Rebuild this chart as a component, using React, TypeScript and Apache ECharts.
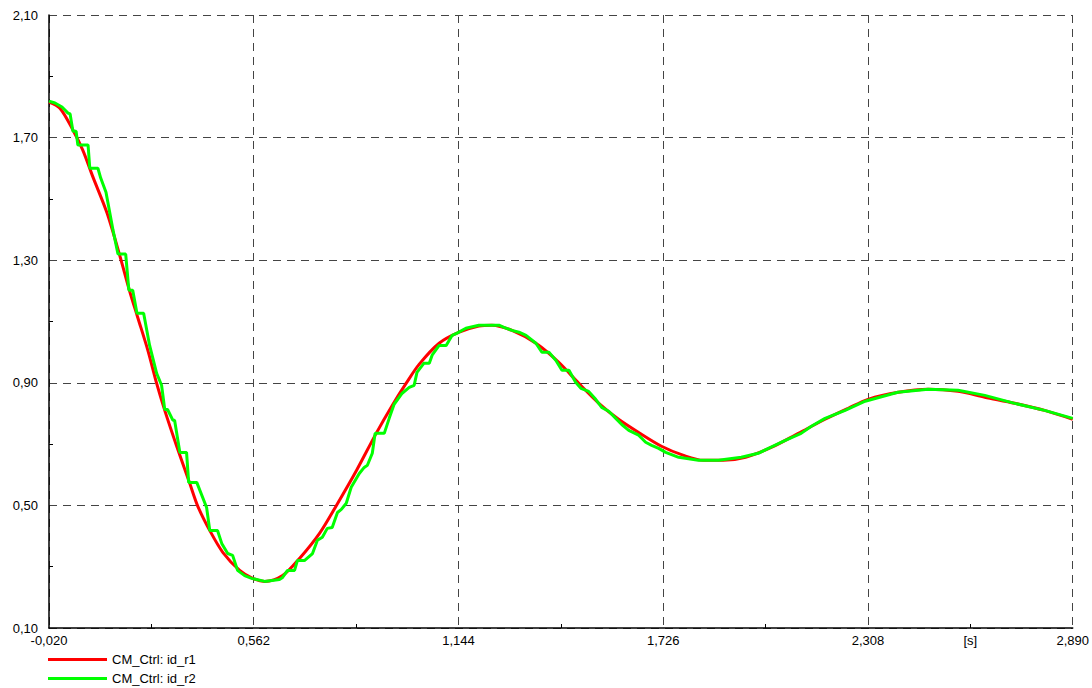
import React, { useEffect, useRef } from "react";
import * as echarts from "echarts";

const seriesNames = ["CM_Ctrl: id_r1", "CM_Ctrl: id_r2"];

const xTicks = [-0.02, 0.562, 1.144, 1.726, 2.308, 2.89];
const xMinorTicks = [0.271, 0.853, 1.435, 2.017, 2.599];
const yTicks = [0.1, 0.5, 0.9, 1.3, 1.7, 2.1];
const yMinorTicks = [0.3, 0.7, 1.1, 1.5, 1.9];
const unitLabel = "[s]";
const unitPosition = [2.599];

const idR1: [number, number][] = [
  [-0.02, 1.816], [0.011, 1.796], [0.048, 1.725], [0.076, 1.659], [0.105, 1.571],
  [0.145, 1.454], [0.181, 1.316], [0.21, 1.196], [0.232, 1.114], [0.261, 1.006],
  [0.286, 0.898], [0.309, 0.81], [0.343, 0.693], [0.38, 0.572], [0.403, 0.497],
  [0.437, 0.418], [0.474, 0.347], [0.522, 0.288], [0.559, 0.262], [0.593, 0.252],
  [0.644, 0.271], [0.692, 0.327], [0.749, 0.409], [0.797, 0.5], [0.854, 0.614],
  [0.91, 0.735], [0.956, 0.827], [0.995, 0.898], [1.032, 0.96], [1.089, 1.029],
  [1.146, 1.065], [1.202, 1.085], [1.239, 1.088], [1.296, 1.071], [1.364, 1.029],
  [1.429, 0.967], [1.486, 0.898], [1.543, 0.833], [1.599, 0.781], [1.656, 0.738],
  [1.721, 0.693], [1.784, 0.663], [1.84, 0.647], [1.897, 0.647], [1.96, 0.657],
  [2.033, 0.689], [2.11, 0.735], [2.186, 0.781], [2.252, 0.817], [2.308, 0.846],
  [2.394, 0.869], [2.479, 0.879], [2.564, 0.872], [2.64, 0.853], [2.725, 0.833],
  [2.81, 0.81], [2.89, 0.781],
];

const idR2: [number, number][] = [
  [-0.02, 1.819], [-0.003, 1.813], [0.017, 1.8], [0.034, 1.78], [0.04, 1.777],
  [0.048, 1.721], [0.057, 1.721], [0.062, 1.676], [0.091, 1.676], [0.096, 1.6],
  [0.119, 1.6], [0.127, 1.568], [0.142, 1.522], [0.162, 1.398], [0.176, 1.32],
  [0.198, 1.32], [0.207, 1.202], [0.218, 1.202], [0.23, 1.127], [0.249, 1.127],
  [0.266, 1.022], [0.286, 0.931], [0.3, 0.892], [0.309, 0.813], [0.317, 0.813],
  [0.332, 0.778], [0.337, 0.778], [0.352, 0.673], [0.371, 0.673], [0.377, 0.575],
  [0.4, 0.575], [0.428, 0.493], [0.437, 0.418], [0.459, 0.418], [0.471, 0.376],
  [0.488, 0.343], [0.502, 0.337], [0.516, 0.288], [0.536, 0.271], [0.556, 0.262],
  [0.593, 0.252], [0.635, 0.258], [0.644, 0.265], [0.658, 0.288], [0.678, 0.288],
  [0.686, 0.32], [0.706, 0.32], [0.729, 0.343], [0.743, 0.386], [0.757, 0.396],
  [0.771, 0.425], [0.785, 0.428], [0.8, 0.477], [0.811, 0.487], [0.825, 0.507],
  [0.839, 0.559], [0.862, 0.604], [0.876, 0.624], [0.885, 0.631], [0.899, 0.67],
  [0.907, 0.735], [0.933, 0.735], [0.947, 0.784], [0.961, 0.83], [0.984, 0.866],
  [1.004, 0.885], [1.018, 0.892], [1.026, 0.934], [1.046, 0.964], [1.061, 0.964],
  [1.069, 0.99], [1.089, 1.022], [1.109, 1.022], [1.126, 1.055], [1.14, 1.062],
  [1.165, 1.078], [1.202, 1.088], [1.259, 1.088], [1.273, 1.081], [1.296, 1.071],
  [1.316, 1.065], [1.336, 1.055], [1.364, 1.029], [1.381, 1.0], [1.401, 1.0],
  [1.421, 0.973], [1.438, 0.941], [1.458, 0.941], [1.477, 0.902], [1.492, 0.882],
  [1.514, 0.872], [1.534, 0.846], [1.551, 0.82], [1.571, 0.807], [1.591, 0.784],
  [1.608, 0.764], [1.628, 0.745], [1.656, 0.729], [1.676, 0.706], [1.693, 0.696],
  [1.713, 0.686], [1.733, 0.673], [1.77, 0.657], [1.826, 0.647], [1.883, 0.647],
  [1.948, 0.657], [1.996, 0.67], [2.025, 0.686], [2.073, 0.712], [2.118, 0.735],
  [2.147, 0.758], [2.186, 0.784], [2.243, 0.81], [2.3, 0.84], [2.393, 0.869],
  [2.479, 0.879], [2.564, 0.876], [2.64, 0.859], [2.725, 0.833], [2.81, 0.81],
  [2.89, 0.784],
];

const FONT = "'Liberation Sans', Arial, sans-serif";

export default function App() {
  const ref = useRef<HTMLDivElement>(null);
  useEffect(() => {
    if (!ref.current) return;
    const chart = echarts.init(ref.current, null, { renderer: "svg" });
    const xMin = xTicks[0];
    const xMax = xTicks[xTicks.length - 1];
    const yMin = yTicks[0];
    const yMax = yTicks[yTicks.length - 1];
    const labelStyle = { color: "#000", fontSize: 13, fontFamily: FONT };
    const splitStyle = { color: "#444", width: 1, type: [8, 6] as any };
    chart.setOption({
      animation: false,
      backgroundColor: "#fff",
      grid: { left: 49, right: 17, top: 15, bottom: 60, containLabel: false },
      legend: {
        show: true,
        type: "plain",
        orient: "vertical",
        left: 48,
        top: 652,
        height: 40,
        padding: 0,
        icon: "rect",
        itemWidth: 59,
        itemHeight: 3,
        itemGap: 4,
        textStyle: { ...labelStyle, lineHeight: 15 },
        data: seriesNames,
      },
      xAxis: [
        {
          type: "value",
          min: xMin,
          max: xMax,
          position: "bottom",
          axisLine: { show: true, onZero: false, lineStyle: { color: "#000", width: 1.5 } },
          axisTick: { show: false, inside: true, customValues: xTicks },
          axisLabel: {
            ...labelStyle,
            margin: 6,
            customValues: xTicks,
            formatter: (v: number) => v.toFixed(3).replace(".", ","),
          },
          splitLine: { show: true, lineStyle: splitStyle },
        },
        {
          type: "value",
          min: xMin,
          max: xMax,
          position: "bottom",
          axisLine: { show: false, onZero: false },
          axisTick: {
            show: true,
            inside: true,
            length: 4,
            customValues: xMinorTicks,
            lineStyle: { color: "#000", width: 1 },
          },
          axisLabel: {
            ...labelStyle,
            margin: 6,
            customValues: unitPosition,
            formatter: () => unitLabel,
          },
          splitLine: { show: false },
        },
      ],
      yAxis: [
        {
          type: "value",
          min: yMin,
          max: yMax,
          position: "left",
          axisLine: { show: true, onZero: false, lineStyle: { color: "#000", width: 1.5 } },
          axisTick: { show: false, inside: true, customValues: yTicks },
          axisLabel: {
            ...labelStyle,
            margin: 11,
            customValues: yTicks,
            formatter: (v: number) => v.toFixed(2).replace(".", ","),
          },
          splitLine: { show: true, lineStyle: splitStyle },
        },
        {
          type: "value",
          min: yMin,
          max: yMax,
          position: "left",
          axisLine: { show: false, onZero: false },
          axisTick: {
            show: true,
            inside: true,
            length: 4,
            customValues: yMinorTicks,
            lineStyle: { color: "#000", width: 1 },
          },
          axisLabel: { show: false },
          splitLine: { show: false },
        },
      ],
      series: [
        {
          name: seriesNames[0],
          type: "line",
          xAxisIndex: 0,
          yAxisIndex: 0,
          data: idR1,
          showSymbol: false,
          symbol: "none",
          smooth: 0.3,
          color: "#ff0000",
          lineStyle: { color: "#ff0000", width: 3 },
        },
        {
          name: seriesNames[1],
          type: "line",
          xAxisIndex: 0,
          yAxisIndex: 0,
          data: idR2,
          showSymbol: false,
          symbol: "none",
          color: "#00ff00",
          lineStyle: { color: "#00ff00", width: 3 },
        },
      ],
    });
    return () => chart.dispose();
  }, []);
  return (
    <div
      ref={ref}
      style={{ position: "absolute", left: 0, top: 0, width: 1092, height: 688, background: "#fff" }}
    />
  );
}
